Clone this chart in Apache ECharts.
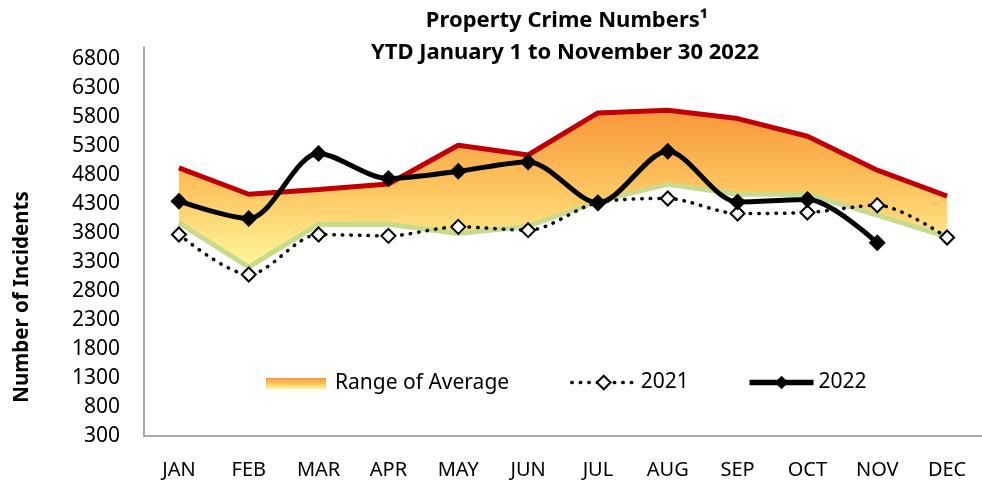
<!DOCTYPE html>
<html>
<head>
<meta charset="utf-8">
<script src="https://cdn.jsdelivr.net/npm/echarts@6/dist/echarts.min.js"></script>
<style>
  html, body { margin: 0; padding: 0; background: #fff; }
  #chart { width: 982px; height: 481px; }
</style>
</head>
<body>
<div id="chart"></div>
<script>
const months = ['JAN', 'FEB', 'MAR', 'APR', 'MAY', 'JUN', 'JUL', 'AUG', 'SEP', 'OCT', 'NOV', 'DEC'];
const yTicks = [300, 800, 1300, 1800, 2300, 2800, 3300, 3800, 4300, 4800, 5300, 5800, 6300, 6800];
const avgUpper = [4917, 4464, 4545, 4640, 5308, 5140, 5864, 5910, 5767, 5463, 4878, 4430];
const avgLower = [3971, 3210, 3943, 3948, 3788, 3914, 4340, 4637, 4464, 4464, 4103, 3730];
const y2021 = [3771, 3082, 3771, 3747, 3902, 3845, 4320, 4390, 4132, 4149, 4275, 3719];
const y2022 = [4344, 4046, 5165, 4734, 4860, 5021, 4315, 5204, 4332, 4373, 3627, null];

const FONT = "'Noto Sans', 'Open Sans', sans-serif";
const rangeSpan = avgUpper.map((u, i) => u - avgLower[i]);

const fillGradient = () => new echarts.graphic.LinearGradient(0, 0, 0, 1, [
  { offset: 0, color: '#F8973A' },
  { offset: 0.5, color: '#FDC560' },
  { offset: 1, color: '#FFF89C' }
]);

const chart = echarts.init(document.getElementById('chart'), null, { renderer: 'canvas' });

chart.setOption({
  backgroundColor: '#ffffff',
  animation: false,
  title: [
    {
      text: 'Property Crime Numbers\u00B9',
      left: 567, top: 10, textAlign: 'center', padding: 0,
      textStyle: { fontFamily: FONT, fontWeight: 'bold', fontSize: 22, color: '#000' }
    },
    {
      text: 'YTD January 1 to November 30 2022',
      left: 565, top: 42, textAlign: 'center', padding: 0,
      textStyle: { fontFamily: FONT, fontWeight: 'bold', fontSize: 22, color: '#000' }
    }
  ],
  legend: [
    {
      data: [{ name: 'Range of Average', icon: 'rect', itemStyle: { color: fillGradient(), borderWidth: 0 } }],
      left: 266, top: 373, padding: 0,
      itemWidth: 60, itemHeight: 11,
      textStyle: { fontFamily: FONT, fontSize: 21, color: '#000', padding: [0, 0, 0, 4] },
      selectedMode: false
    },
    {
      data: [
        { name: '2021', lineStyle: { width: 3.5 } },
        { name: '2022', lineStyle: { width: 5.5 } }
      ],
      left: 570, top: 372, padding: 0,
      itemWidth: 64, itemHeight: 17, itemGap: 58,
      textStyle: { fontFamily: FONT, fontSize: 21, color: '#000' },
      selectedMode: false
    }
  ],
  grid: { left: 144, top: 47, width: 851, height: 389, containLabel: false },
  xAxis: {
    type: 'category',
    data: months,
    boundaryGap: true,
    axisLine: { show: true, lineStyle: { color: '#8c8c8c', width: 1.5 } },
    axisTick: { show: false },
    splitLine: { show: false },
    axisLabel: { margin: 24, fontFamily: FONT, fontSize: 20, color: '#000', interval: 0 }
  },
  yAxis: {
    type: 'value',
    min: yTicks[0],
    max: 7000,
    interval: yTicks[1] - yTicks[0],
    axisLine: { show: true, lineStyle: { color: '#8c8c8c', width: 1.5 } },
    axisTick: { show: false },
    splitLine: { show: false },
    axisLabel: {
      margin: 24, fontFamily: FONT, fontSize: 21, color: '#000', showMaxLabel: false,
      formatter: (v) => String(v)
    }
  },
  graphic: [
    {
      type: 'text',
      x: 22, y: 297,
      rotation: Math.PI / 2,
      style: {
        text: 'Number of Incidents',
        font: "bold 20.5px 'Noto Sans', 'Open Sans', sans-serif",
        fill: '#000',
        textAlign: 'center',
        textVerticalAlign: 'middle'
      }
    }
  ],
  series: [
    {
      name: 'lower',
      type: 'line',
      stack: 'avg',
      data: avgLower,
      symbol: 'none',
      silent: true,
      z: 3,
      lineStyle: { color: '#C9DA8C', width: 5 }
    },
    {
      name: 'Range of Average',
      type: 'line',
      stack: 'avg',
      data: rangeSpan,
      symbol: 'none',
      silent: true,
      z: 2,
      lineStyle: { color: '#C00000', width: 5 },
      itemStyle: { color: '#F8973A' },
      areaStyle: { color: fillGradient(), opacity: 1 }
    },
    {
      name: '2021',
      type: 'line',
      data: y2021,
      smooth: 0.3,
      symbol: 'diamond',
      symbolSize: 14,
      z: 4,
      lineStyle: { color: '#000', width: 3.5, type: [0.5, 8], cap: 'round' },
      itemStyle: { color: '#fff', borderColor: '#000', borderWidth: 2 }
    },
    {
      name: '2022',
      type: 'line',
      data: y2022,
      smooth: 0.3,
      symbol: 'diamond',
      symbolSize: 17,
      z: 5,
      lineStyle: { color: '#000', width: 5 },
      itemStyle: { color: '#000' }
    }
  ]
});
</script>
</body>
</html>
